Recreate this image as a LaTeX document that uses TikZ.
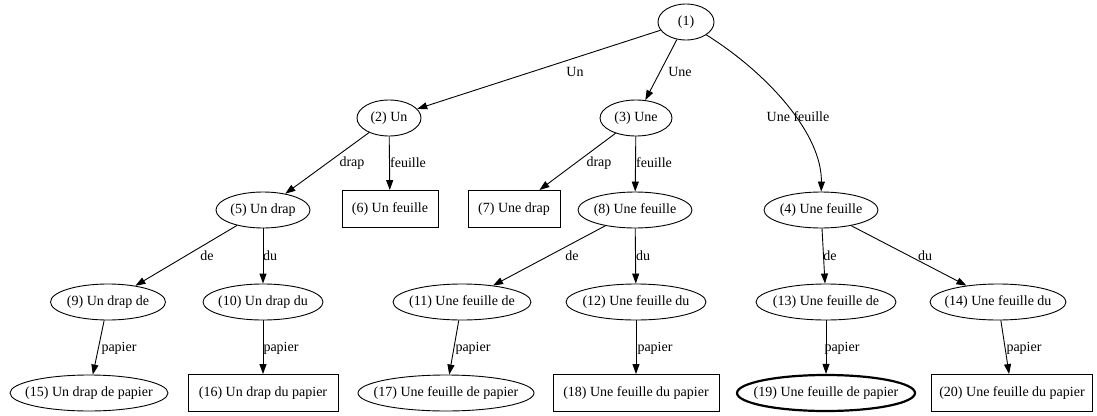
\documentclass[tikz,border=0pt]{standalone}
\usepackage{fontspec}
\setmainfont{Liberation Serif}
\usetikzlibrary{shapes.geometric,arrows.meta}
\newcommand\zw[1]{\makebox[0pt]{#1}}
\begin{document}
\begin{tikzpicture}[x=1pt,y=-1pt,
  every node/.style={font=\fontsize{14}{16}\selectfont},
  el/.style={ellipse,draw,line width=0.9pt,inner sep=0pt,minimum height=36pt},
  bx/.style={rectangle,draw,line width=0.9pt,inner sep=0pt,minimum height=37pt},
  lbl/.style={inner sep=0pt},
  ar/.style={-{Triangle[length=10pt,width=7pt]},line width=0.9pt}]
\useasboundingbox[fill=white] (0,0) rectangle (1097,415);

% rank 0
\node[el,minimum width=56pt] (n1) at (686,22) {\zw{(1)}};
% rank 1
\node[el,minimum width=64pt] (n2) at (389,118) {\zw{(2) Un}};
\node[el,minimum width=72pt] (n3) at (636,118) {\zw{(3) Une}};
% rank 2
\node[el,minimum width=94pt] (n5) at (263,210) {\zw{(5) Un drap}};
\node[bx,minimum width=96pt] (n6) at (390,209) {\zw{(6) Un feuille}};
\node[bx,minimum width=92pt] (n7) at (514,209) {\zw{(7) Une drap}};
\node[el,minimum width=114pt] (n8) at (635,210) {\zw{(8) Une feuille}};
\node[el,minimum width=114pt] (n4) at (821,210) {\zw{(4) Une feuille}};
% rank 3
\node[el,minimum width=115pt] (n9) at (108,302) {\zw{(9) Un drap de}};
\node[el,minimum width=120pt] (n10) at (263,302) {\zw{(10) Un drap du}};
\node[el,minimum width=138pt] (n11) at (462,302) {\zw{(11) Une feuille de}};
\node[el,minimum width=140pt] (n12) at (636,302) {\zw{(12) Une feuille du}};
\node[el,minimum width=140pt] (n13) at (826,302) {\zw{(13) Une feuille de}};
\node[el,minimum width=136pt] (n14) at (998,302) {\zw{(14) Une feuille du}};
% rank 4
\node[el,minimum width=158pt] (n15) at (89,393) {\zw{(15) Un drap de papier}};
\node[bx,minimum width=150pt] (n16) at (263,393) {\zw{(16) Un drap du papier}};
\node[el,minimum width=176pt] (n17) at (446,393) {\zw{(17) Une feuille de papier}};
\node[bx,minimum width=166pt] (n18) at (636,393) {\zw{(18) Une feuille du papier}};
\node[el,minimum width=178pt,line width=2.2pt] (n19) at (826,393) {\zw{(19) Une feuille de papier}};
\node[bx,minimum width=161pt] (n20) at (1012,393) {\zw{(20) Une feuille du papier}};

% edges
\draw[ar] (n1) -- (n2);
\draw[ar] (n1) -- (n3);
\draw[ar] (n1) .. controls (770,75) and (822,135) .. (n4);
\draw[ar] (n2) -- (n5);
\draw[ar] (n2) -- (n6);
\draw[ar] (n3) -- (n7);
\draw[ar] (n3) -- (n8);
\draw[ar] (n5) -- (n9);
\draw[ar] (n5) -- (n10);
\draw[ar] (n8) -- (n11);
\draw[ar] (n8) -- (n12);
\draw[ar] (n4) -- (n13);
\draw[ar] (n4) -- (n14);
\draw[ar] (n9) -- (n15);
\draw[ar] (n10) -- (n16);
\draw[ar] (n11) -- (n17);
\draw[ar] (n12) -- (n18);
\draw[ar] (n13) -- (n19);
\draw[ar] (n14) -- (n20);

% edge labels
\node[lbl] (l12) at (575,72) {Un};
\node[lbl] (l13) at (680,72) {Une};
\node[lbl] (l14) at (798,117) {Une feuille};
\node[lbl] (l25) at (352,163) {drap};
\node[lbl] (l26) at (408,163) {feuille};
\node[lbl] (l37) at (599,163) {drap};
\node[lbl] (l38) at (654,163) {feuille};
\node[lbl] (l59) at (207,256) {de};
\node[lbl] (l510) at (270,256) {du};
\node[lbl] (l811) at (572,256) {de};
\node[lbl] (l812) at (643,256) {du};
\node[lbl] (l413) at (830,256) {de};
\node[lbl] (l414) at (925,256) {du};
\node[lbl] (l915) at (119,348) {papier};
\node[lbl] (l1016) at (281,348) {papier};
\node[lbl] (l1117) at (473,348) {papier};
\node[lbl] (l1218) at (655,348) {papier};
\node[lbl] (l1319) at (842,348) {papier};
\node[lbl] (l1420) at (1024,348) {papier};
\end{tikzpicture}
\end{document}
